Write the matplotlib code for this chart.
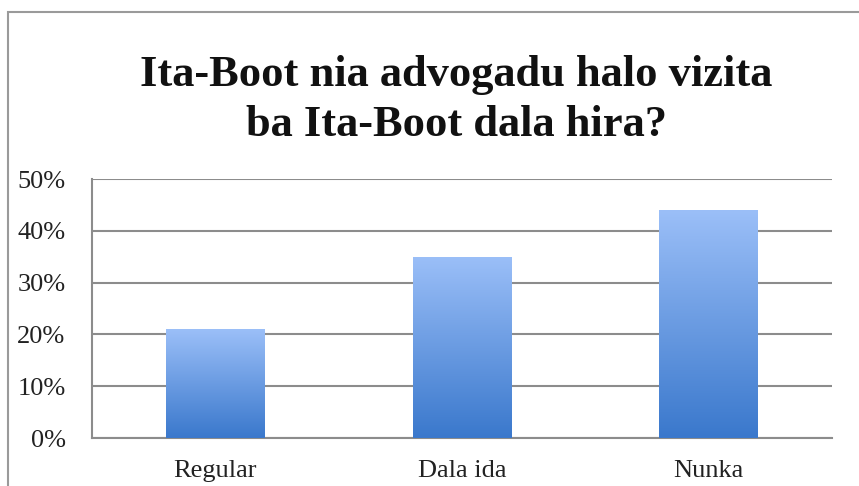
import numpy as np
import matplotlib
matplotlib.use("Agg")
import matplotlib.pyplot as plt
from matplotlib.colors import LinearSegmentedColormap
from matplotlib.patches import Rectangle

plt.rcParams['font.family'] = ['Liberation Serif', 'DejaVu Serif']

# data
categories = ['Regular', 'Dala ida', 'Nunka']
values = [0.21, 0.35, 0.44]
yticks = [0, 0.1, 0.2, 0.3, 0.4, 0.5]
ytick_labels = ['0%', '10%', '20%', '30%', '40%', '50%']
title = "Ita-Boot nia advogadu halo vizita\nba Ita-Boot dala hira?"

fig = plt.figure(figsize=(8.59, 4.86), dpi=100)
ax = fig.add_axes([92/859, 1-438/486, 740/859, (438-179)/486])

# frame round the chart, cut at right and bottom like the source
fig.patches.append(Rectangle((8/859, -0.1), 1.2, 1-12/486+0.1, transform=fig.transFigure,
                             fill=False, edgecolor='#9a9a9a', linewidth=1.5))

x = np.arange(len(categories))
bars = ax.bar(x, values, width=0.40, color='none', edgecolor='none', zorder=3)

cmap = LinearSegmentedColormap.from_list('blu', ['#3a78cc', '#9bbff8'])
grad = np.linspace(0, 1, 256).reshape(-1, 1)
for b in bars:
    x0, y0 = b.get_x(), b.get_y()
    w, h = b.get_width(), b.get_height()
    im = ax.imshow(grad, cmap=cmap, origin='lower', aspect='auto',
                   extent=[x0, x0 + w, y0, y0 + h], zorder=3)
    im.set_clip_path(b)

ax.set_xlim(-0.5, len(categories) - 0.5)
ax.set_ylim(0, 0.5)
ax.set_yticks(yticks)
ax.set_yticklabels(ytick_labels, fontsize=19, color='#222222')
ax.set_xticks(x)
ax.set_xticklabels(categories, fontsize=19, color='#222222')
ax.tick_params(axis='both', length=0)
ax.tick_params(axis='y', pad=19)
ax.tick_params(axis='x', pad=16)

ax.grid(axis='y', color='#8c8c8c', linewidth=1.5, zorder=0)
ax.set_axisbelow(True)
for s in ['top', 'right']:
    ax.spines[s].set_visible(False)
ax.spines['left'].set_color('#8c8c8c')
ax.spines['left'].set_linewidth(1.5)
ax.spines['bottom'].set_color('#8c8c8c')
ax.spines['bottom'].set_linewidth(1.5)

fig.text(456/859, 1-100/486, title, ha='center', va='center', fontsize=32,
         fontweight='bold', linespacing=1.32, color='#111111')

fig.savefig('out.png', dpi=100)
